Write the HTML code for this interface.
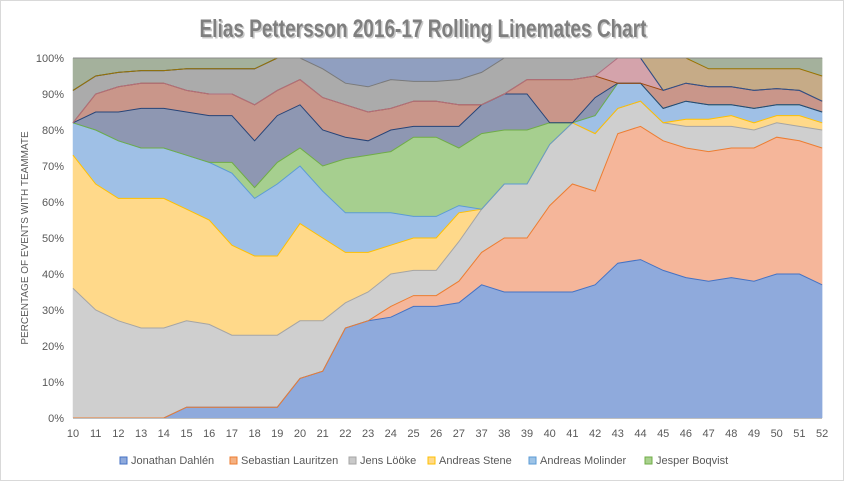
<!DOCTYPE html>
<html><head><meta charset="utf-8">
<style>
html,body{margin:0;padding:0;background:#fff;}
svg{display:block;font-family:"Liberation Sans",sans-serif;}
</style></head>
<body>
<svg id="c" width="844" height="481" viewBox="0 0 844 481" xmlns="http://www.w3.org/2000/svg">
<rect x="0.5" y="0.5" width="843" height="480" fill="#fff" stroke="#d9d9d9"/>
<text x="423" y="37" text-anchor="middle" font-family="'Liberation Sans Narrow','Liberation Sans',sans-serif" font-weight="bold" font-size="25" fill="#c8c8c8" textLength="447" lengthAdjust="spacingAndGlyphs" transform="translate(1.5,1.5)">Elias Pettersson 2016-17 Rolling Linemates Chart</text>
<text x="423" y="37" text-anchor="middle" font-family="'Liberation Sans Narrow','Liberation Sans',sans-serif" font-weight="bold" font-size="25" fill="#7f7f7f" textLength="447" lengthAdjust="spacingAndGlyphs">Elias Pettersson 2016-17 Rolling Linemates Chart</text>
<g id="areas"></g>
<g id="axes" font-size="11" fill="#595959"></g>
<text transform="translate(28,238) rotate(-90)" text-anchor="middle" font-size="10" fill="#595959">PERCENTAGE OF EVENTS WITH TEAMMATE</text>
<g font-size="11" fill="#595959">
<rect x="120" y="457" width="7" height="7" fill="#8faadc" stroke="#4472c4"/><text x="131" y="464">Jonathan Dahlén</text>
<rect x="230" y="457" width="7" height="7" fill="#f4b183" stroke="#ed7d31"/><text x="241" y="464">Sebastian Lauritzen</text>
<rect x="349" y="457" width="7" height="7" fill="#c9c9c9" stroke="#a5a5a5"/><text x="360" y="464">Jens Lööke</text>
<rect x="428" y="457" width="7" height="7" fill="#ffd98a" stroke="#ffc000"/><text x="439" y="464">Andreas Stene</text>
<rect x="529" y="457" width="7" height="7" fill="#9dc3e6" stroke="#5b9bd5"/><text x="540" y="464">Andreas Molinder</text>
<rect x="645" y="457" width="7" height="7" fill="#a9d18e" stroke="#70ad47"/><text x="656" y="464">Jesper Boqvist</text>
</g>
</svg>
<script>
(function(){
var NS="http://www.w3.org/2000/svg";
function X(i){return 73+i*22.7;}
function Y(p){return 418-p*3.6;}
var L1=[0,0,0,0,0,3,3,3,3,3,11,13,25,27,28,31,31,32,37,35,35,35,35,37,43,44,41,39,38,39,38,40,40,37];
var L2=[0,0,0,0,0,3,3,3,3,3,11,13,25,27,31,34,34,38,46,50,50,59,65,63,79,81,77,75,74,75,75,78,77,75];
var L3=[36,30,27,25,25,27,26,23,23,23,27,27,32,35,40,41,41,49,58,65,65,76,82,79,86,88,82,81,81,81,80,82,81,80];
var L4=[73,65,61,61,61,58,55,48,45,45,54,50,46,46,48,50,50,57,58,65,65,76,82,79,86,88,82,83,83,84,82,84,84,82];
var L5=[82,80,77,75,75,73,71,68,61,65,70,63,57,57,57,56,56,59,58,65,65,76,82,84,93,93,86,88,87,87,86,87,87,85];
var L6=[82,80,77,75,75,73,71,71,64,71,75,70,72,73,74,78,78,75,79,80,80,82,82,84,93,93,86,88,87,87,86,87,87,85];
var L7=[82,85,85,86,86,85,84,84,77,84,87,80,78,77,80,81,81,81,87,90,90,82,82,89,93,93,86,88,87,87,86,87,87,85];
var L8=[82,90,92,93,93,91,90,90,87,91,94,89,87,85,86,88,88,87,87,90,94,94,94,95,93,93,91,93,92,92,91,91.5,91,88];
var L8b=L8.slice();L8b[24]=100;L8b[25]=100;
var L9=[91,95,96,96.5,96.5,97,97,97,97,100,100,97,93,92,94,93.5,93.5,94,96,100,100,100,100,100];
for(var i=24;i<34;i++)L9[i]=L8b[i];
var L10=L9.slice();for(i=10;i<=18;i++)L10[i]=100;
var L11=L10.slice();var tan=[100,100,100,97,97,97,97,97,95];for(i=25;i<34;i++)L11[i]=tan[i-25];
var L12=[];for(i=0;i<34;i++)L12[i]=100;
var zero=[];for(i=0;i<34;i++)zero[i]=0;
var layers=[
[zero,L1,"#8faadc","#4472c4"],
[L1,L2,"#f5b69a","#ed7d31"],
[L2,L3,"#cfcfcf","#a5a5a5"],
[L3,L4,"#ffd98a","#ffc000"],
[L4,L5,"#9fc0e6","#5b9bd5"],
[L5,L6,"#a6cf8f","#70ad47"],
[L6,L7,"#8e97b2","#264478"],
[L7,L8,"#c9968a","#9e480e"],
[L8,L8b,"#d4a3ab","#b07080"],
[L8b,L9,"#ababab","#7a7a7a"],
[L9,L10,"#909fc0","#2e4f88"],
[L10,L11,"#c6ab87","#997300"],
[L11,L12,"#a4b19c","#43682b"]
];
var g=document.getElementById("areas");
layers.forEach(function(l){
 var b=l[0],t=l[1],pts=[];
 for(var i=0;i<34;i++)pts.push(X(i).toFixed(1)+","+Y(t[i]).toFixed(1));
 for(i=33;i>=0;i--)pts.push(X(i).toFixed(1)+","+Y(b[i]).toFixed(1));
 var p=document.createElementNS(NS,"polygon");
 p.setAttribute("points",pts.join(" "));p.setAttribute("fill",l[2]);
 p.setAttribute("stroke",l[2]);p.setAttribute("stroke-width","0.5");
 g.appendChild(p);
});
layers.forEach(function(l){
 var t=l[1],pts=[];
 for(var i=0;i<34;i++)pts.push(X(i).toFixed(1)+","+Y(t[i]).toFixed(1));
 var p=document.createElementNS(NS,"polyline");
 p.setAttribute("points",pts.join(" "));p.setAttribute("fill","none");
 p.setAttribute("stroke",l[3]);p.setAttribute("stroke-width","1");
 g.appendChild(p);
});
var ax=document.getElementById("axes");
var bl=document.createElementNS(NS,"line");
bl.setAttribute("x1",73);bl.setAttribute("x2",822);bl.setAttribute("y1",418.5);bl.setAttribute("y2",418.5);bl.setAttribute("stroke","#bfbfbf");ax.appendChild(bl);
var tl=document.createElementNS(NS,"line");
tl.setAttribute("x1",73);tl.setAttribute("x2",822);tl.setAttribute("y1",58);tl.setAttribute("y2",58);tl.setAttribute("stroke","#8c8c8c");ax.appendChild(tl);
for(var k=0;k<=10;k++){
 var t=document.createElementNS(NS,"text");
 t.setAttribute("x",64);t.setAttribute("y",(Y(k*10)+4).toFixed(1));t.setAttribute("text-anchor","end");
 t.textContent=(k*10)+"%";ax.appendChild(t);
}
var cats=[10,11,12,13,14,15,16,17,18,19,20,21,22,23,24,25,26,27,37,38,39,40,41,42,43,44,45,46,47,48,49,50,51,52];
cats.forEach(function(c,i){
 var t=document.createElementNS(NS,"text");
 t.setAttribute("x",X(i).toFixed(1));t.setAttribute("y",437);t.setAttribute("text-anchor","middle");
 t.textContent=c;ax.appendChild(t);
});
})();
</script>
</body></html>
